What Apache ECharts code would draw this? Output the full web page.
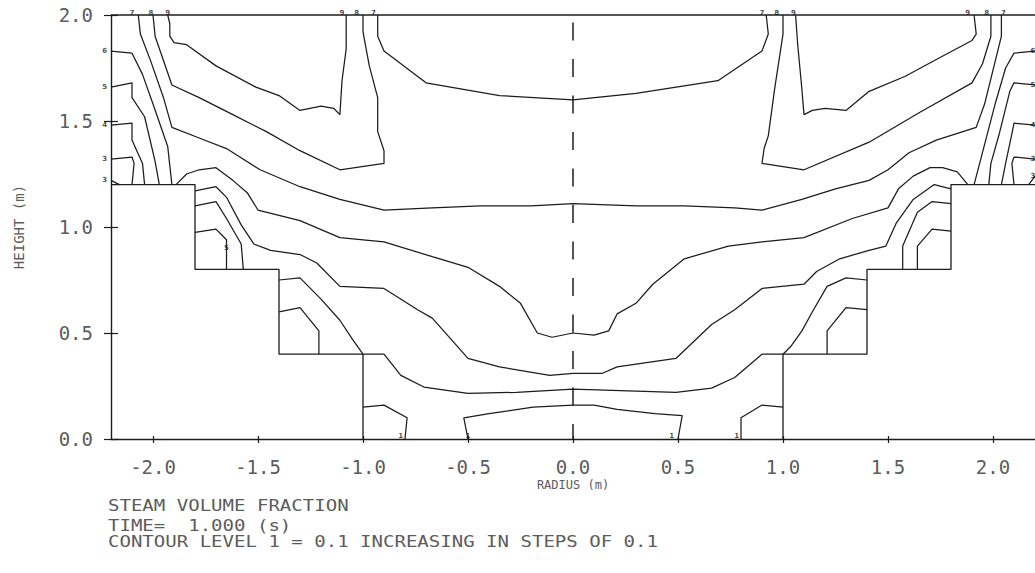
<!DOCTYPE html>
<html>
<head>
<meta charset="utf-8">
<title>Steam volume fraction contours</title>
<script src="https://cdn.jsdelivr.net/npm/echarts@6/dist/echarts.min.js"></script>
<style>
  html, body { margin: 0; padding: 0; background: #ffffff; }
  #chart { width: 1035px; height: 573px; }
</style>
</head>
<body>
<div id="chart"></div>
<script>
// Axis ticks (m)
const radiusTicks = [-2.0, -1.5, -1.0, -0.5, 0.0, 0.5, 1.0, 1.5, 2.0];
const heightTicks = [0.0, 0.5, 1.0, 1.5, 2.0];

// Vessel outline: stepped internals on both sides, and the top boundary
const leftSteps = [[-2.2, 1.2], [-1.8, 1.2], [-1.8, 0.8], [-1.4, 0.8], [-1.4, 0.4], [-1.0, 0.4], [-1.0, 0.0]];
const rightSteps = [[1.0, 0.0], [1.0, 0.4], [1.4, 0.4], [1.4, 0.8], [1.8, 0.8], [1.8, 1.2], [2.2, 1.2]];
const topBoundary = [[-2.2, 2.0], [2.2, 2.0]];
const centreLine = [[0, 1.965], [0, 0]];

// Contour polylines, [radius, height] in metres
const level9Left = [[-1.93, 2.0], [-1.92, 1.96], [-1.92, 1.90], [-1.90, 1.87], [-1.84, 1.86], [-1.70, 1.76], [-1.51, 1.66], [-1.40, 1.62], [-1.30, 1.55], [-1.20, 1.57], [-1.14, 1.56], [-1.11, 1.53], [-1.10, 1.69], [-1.08, 1.84], [-1.08, 2.0]];
const level8Left = [[-2.00, 2.0], [-1.99, 1.90], [-1.91, 1.67], [-1.78, 1.61], [-1.62, 1.53], [-1.46, 1.45], [-1.30, 1.36], [-1.11, 1.27], [-0.90, 1.30], [-0.90, 1.36], [-0.93, 1.45], [-0.93, 1.61], [-0.97, 1.76], [-1.00, 1.92], [-1.00, 2.0]];
const level7Outer = [[-2.07, 2.0], [-2.06, 1.91], [-2.01, 1.78], [-1.95, 1.61], [-1.91, 1.47], [-1.78, 1.42], [-1.65, 1.37], [-1.49, 1.27], [-1.30, 1.19], [-1.11, 1.13], [-0.90, 1.08], [-0.67, 1.09], [-0.44, 1.10], [-0.20, 1.10], [0.0, 1.11], [0.30, 1.10], [0.53, 1.10], [0.77, 1.09], [0.90, 1.08], [1.09, 1.13], [1.25, 1.18], [1.41, 1.22], [1.50, 1.27], [1.60, 1.35], [1.73, 1.41], [1.92, 1.47], [1.96, 1.58], [2.00, 1.74], [2.04, 1.90], [2.04, 2.0]];
const level7Inner = [[-0.93, 2.0], [-0.93, 1.90], [-0.90, 1.83], [-0.70, 1.68], [-0.35, 1.62], [0.0, 1.60], [0.30, 1.63], [0.69, 1.69], [0.90, 1.83], [0.93, 1.91], [0.92, 2.0]];
const level8Right = [[1.00, 2.0], [1.00, 1.91], [0.96, 1.65], [0.93, 1.43], [0.91, 1.37], [0.90, 1.30], [1.10, 1.27], [1.41, 1.40], [1.65, 1.54], [1.90, 1.68], [1.95, 1.77], [1.99, 1.90], [1.99, 2.0]];
const level9Right = [[1.06, 2.0], [1.07, 1.86], [1.09, 1.65], [1.10, 1.53], [1.14, 1.55], [1.20, 1.56], [1.30, 1.55], [1.41, 1.64], [1.58, 1.71], [1.73, 1.79], [1.90, 1.88], [1.92, 1.91], [1.91, 2.0]];

const wall6Left = [[-2.2, 1.83], [-2.10, 1.82], [-2.05, 1.72], [-2.00, 1.58], [-1.93, 1.38], [-1.91, 1.2]];
const wall5Left = [[-2.2, 1.66], [-2.10, 1.68], [-2.10, 1.61], [-2.04, 1.52], [-1.99, 1.31], [-1.97, 1.2]];
const wall4Left = [[-2.2, 1.48], [-2.10, 1.49], [-2.10, 1.41], [-2.05, 1.30], [-2.04, 1.2]];
const wall3Left = [[-2.2, 1.32], [-2.10, 1.33], [-2.09, 1.30], [-2.10, 1.2]];
const wall3LeftLow = [[-2.2, 1.22], [-2.16, 1.2]];
const wall6Right = [[2.2, 1.83], [2.10, 1.82], [2.06, 1.75], [2.01, 1.58], [1.96, 1.39], [1.91, 1.2]];
const wall5Right = [[2.2, 1.67], [2.10, 1.68], [2.08, 1.64], [2.03, 1.44], [1.99, 1.30], [1.98, 1.2]];
const wall4Right = [[2.2, 1.48], [2.10, 1.49], [2.09, 1.44], [2.06, 1.30], [2.04, 1.2]];
const wall3Right = [[2.2, 1.32], [2.10, 1.33], [2.09, 1.30], [2.10, 1.2]];
const wall3RightLow = [[2.2, 1.24], [2.17, 1.2]];

const midArc = [[-1.89, 1.2], [-1.84, 1.25], [-1.78, 1.27], [-1.70, 1.28], [-1.62, 1.22], [-1.55, 1.16], [-1.50, 1.08], [-1.30, 1.03], [-1.11, 0.95], [-0.90, 0.93], [-0.67, 0.86], [-0.50, 0.81], [-0.35, 0.72], [-0.25, 0.64], [-0.17, 0.50], [-0.10, 0.48], [0.0, 0.50], [0.10, 0.49], [0.17, 0.51], [0.21, 0.59], [0.30, 0.64], [0.38, 0.73], [0.53, 0.85], [0.74, 0.91], [0.90, 0.93], [1.10, 0.95], [1.33, 1.04], [1.50, 1.09], [1.55, 1.18], [1.62, 1.24], [1.70, 1.28], [1.76, 1.28], [1.83, 1.26], [1.88, 1.2]];
const lowerArc = [[-1.80, 1.17], [-1.70, 1.19], [-1.65, 1.14], [-1.58, 1.01], [-1.52, 0.92], [-1.44, 0.89], [-1.30, 0.87], [-1.22, 0.83], [-1.11, 0.72], [-0.90, 0.71], [-0.74, 0.61], [-0.67, 0.57], [-0.50, 0.38], [-0.35, 0.34], [-0.11, 0.30], [0.0, 0.31], [0.14, 0.31], [0.21, 0.34], [0.49, 0.38], [0.66, 0.54], [0.77, 0.61], [0.90, 0.71], [1.10, 0.73], [1.16, 0.79], [1.27, 0.85], [1.41, 0.89], [1.49, 0.91], [1.54, 1.02], [1.62, 1.13], [1.72, 1.20], [1.80, 1.18]];
const cornerArc = [[-1.40, 0.75], [-1.30, 0.76], [-1.20, 0.66], [-1.11, 0.56], [-1.05, 0.47], [-1.00, 0.40], [-0.90, 0.40], [-0.82, 0.30], [-0.71, 0.245], [-0.50, 0.215], [-0.27, 0.22], [0.0, 0.235], [0.49, 0.22], [0.66, 0.24], [0.77, 0.29], [0.90, 0.40], [1.00, 0.40], [1.04, 0.44], [1.09, 0.51], [1.14, 0.60], [1.21, 0.72], [1.30, 0.76], [1.40, 0.75]];

const step1LoopLeft = [[-1.80, 1.10], [-1.70, 1.12], [-1.65, 1.04], [-1.58, 0.92], [-1.57, 0.8]];
const step1InnerLeft = [[-1.80, 0.975], [-1.70, 0.99], [-1.65, 0.94], [-1.65, 0.8]];
const step1LoopRight = [[1.80, 1.11], [1.71, 1.12], [1.64, 1.07], [1.57, 0.91], [1.57, 0.8]];
const step1InnerRight = [[1.80, 0.98], [1.71, 0.99], [1.64, 0.91], [1.64, 0.8]];
const step2LoopLeft = [[-1.40, 0.60], [-1.30, 0.62], [-1.21, 0.51], [-1.21, 0.4]];
const step2LoopRight = [[1.40, 0.61], [1.30, 0.62], [1.21, 0.51], [1.21, 0.4]];
const floorPocketLeft = [[-1.0, 0.15], [-0.90, 0.16], [-0.79, 0.10], [-0.80, 0.0]];
const floorPocketRight = [[1.0, 0.15], [0.90, 0.16], [0.80, 0.10], [0.80, 0.0]];
const floorPocketCentre = [[-0.50, 0.0], [-0.52, 0.10], [-0.40, 0.12], [-0.19, 0.15], [0.0, 0.16], [0.10, 0.16], [0.21, 0.14], [0.39, 0.12], [0.52, 0.11], [0.50, 0.0]];

// Contour level tags: [radius, height, level]
const levelTags = [
  [-2.10, 2.01, '7'], [-2.01, 2.01, '8'], [-1.93, 2.01, '9'],
  [-1.10, 2.01, '9'], [-1.03, 2.01, '8'], [-0.95, 2.01, '7'],
  [0.90, 2.01, '7'], [0.97, 2.01, '8'], [1.05, 2.01, '9'],
  [1.88, 2.01, '9'], [1.97, 2.01, '8'], [2.05, 2.01, '7'],
  [-2.23, 1.83, '6'], [-2.23, 1.66, '5'], [-2.23, 1.48, '4'], [-2.23, 1.32, '3'], [-2.23, 1.22, '3'],
  [2.19, 1.83, '6'], [2.19, 1.67, '5'], [2.19, 1.48, '4'], [2.19, 1.32, '3'], [2.19, 1.24, '3'],
  [-1.65, 0.90, '5'],
  [-0.82, 0.015, '1'], [-0.50, 0.015, '1'], [0.47, 0.015, '1'], [0.78, 0.015, '1']
];

// Caption lines under the plot
const captionLines = [
  'STEAM VOLUME FRACTION',
  'TIME=  1.000 (s)',
  'CONTOUR LEVEL 1 = 0.1 INCREASING IN STEPS OF 0.1'
];

const contours = [
  level9Left, level8Left, level7Outer, level7Inner, level8Right, level9Right,
  wall6Left, wall5Left, wall4Left, wall3Left, wall3LeftLow,
  wall6Right, wall5Right, wall4Right, wall3Right, wall3RightLow,
  midArc, lowerArc, cornerArc,
  step1LoopLeft, step1InnerLeft, step1LoopRight, step1InnerRight,
  step2LoopLeft, step2LoopRight,
  floorPocketLeft, floorPocketRight, floorPocketCentre
];

const ink = '#1c1c1c';
const textInk = '#5c5c5c';
const mono = '"DejaVu Sans Mono", "Liberation Mono", monospace';

function polyline(data, width, extra) {
  return Object.assign({
    type: 'line',
    data: data,
    showSymbol: false,
    symbol: 'none',
    clip: false,
    silent: true,
    animation: false,
    lineStyle: { color: ink, width: width }
  }, extra || {});
}

const series = [];
contours.forEach(c => series.push(polyline(c, 1.25)));
series.push(polyline(leftSteps, 1.3));
series.push(polyline(rightSteps, 1.3));
series.push(polyline(topBoundary, 1.4));
series.push(polyline(centreLine, 1.5, {
  lineStyle: { color: ink, width: 1.5, type: [18, 18.5] }
}));
series.push({
  type: 'scatter',
  data: levelTags,
  symbolSize: 1,
  clip: false,
  silent: true,
  animation: false,
  itemStyle: { color: 'rgba(0,0,0,0)' },
  label: {
    show: true,
    position: 'inside',
    formatter: p => p.value[2],
    fontSize: 7,
    fontWeight: 'bold',
    fontFamily: 'DejaVu Sans',
    color: '#222'
  }
});

const tickLabel = v => Number(v).toFixed(1);

// Caption text: monospace glyphs stretched horizontally to the plotter's character pitch
const captionY = [506, 526, 542];
const graphic = captionLines.map((t, i) => ({
  type: 'text',
  x: 108,
  y: captionY[i],
  scaleX: 1.19,
  style: { text: t, font: '16px ' + mono, fill: textInk, verticalAlign: 'middle', lineHeight: 16 }
}));

const chart = echarts.init(document.getElementById('chart'), null, { renderer: 'svg' });
chart.setOption({
  backgroundColor: '#ffffff',
  animation: false,
  grid: { left: 111, right: 0, top: 15, bottom: 134, containLabel: false, outerBoundsMode: 'none' },
  xAxis: [
    {
      type: 'value', min: -2.2, max: 2.2, position: 'bottom',
      axisLine: { show: true, onZero: false, lineStyle: { color: ink, width: 1.4 } },
      axisTick: { show: true, inside: false, length: 4, customValues: radiusTicks, lineStyle: { color: ink, width: 1.2 } },
      axisLabel: { show: true, customValues: radiusTicks, formatter: tickLabel, margin: 18, fontFamily: mono, fontSize: 19, color: textInk },
      splitLine: { show: false },
      name: 'RADIUS (m)', nameLocation: 'middle', nameGap: 40, nameMoveOverlap: false,
      nameTextStyle: { fontFamily: mono, fontSize: 12, color: textInk }
    },
    {
      type: 'value', min: -2.2, max: 2.2, position: 'bottom',
      axisLine: { show: false, onZero: false },
      axisTick: { show: true, inside: true, length: 3, customValues: radiusTicks, lineStyle: { color: ink, width: 1.2 } },
      axisLabel: { show: false },
      splitLine: { show: false }
    }
  ],
  yAxis: [
    {
      type: 'value', min: 0, max: 2, position: 'left',
      axisLine: { show: true, onZero: false, lineStyle: { color: ink, width: 1.4 } },
      axisTick: { show: true, inside: false, length: 7, customValues: heightTicks, lineStyle: { color: ink, width: 1.2 } },
      axisLabel: { show: true, customValues: heightTicks, formatter: tickLabel, margin: 18, fontFamily: mono, fontSize: 19, color: textInk },
      splitLine: { show: false },
      name: 'HEIGHT (m)', nameLocation: 'middle', nameGap: 85, nameRotate: 90, nameMoveOverlap: false,
      nameTextStyle: { fontFamily: mono, fontSize: 14, color: textInk }
    },
    {
      type: 'value', min: 0, max: 2, position: 'left',
      axisLine: { show: false, onZero: false },
      axisTick: { show: true, inside: true, length: 7, customValues: heightTicks, lineStyle: { color: ink, width: 1.2 } },
      axisLabel: { show: false },
      splitLine: { show: false }
    }
  ],
  graphic: graphic,
  series: series
});
</script>
</body>
</html>
